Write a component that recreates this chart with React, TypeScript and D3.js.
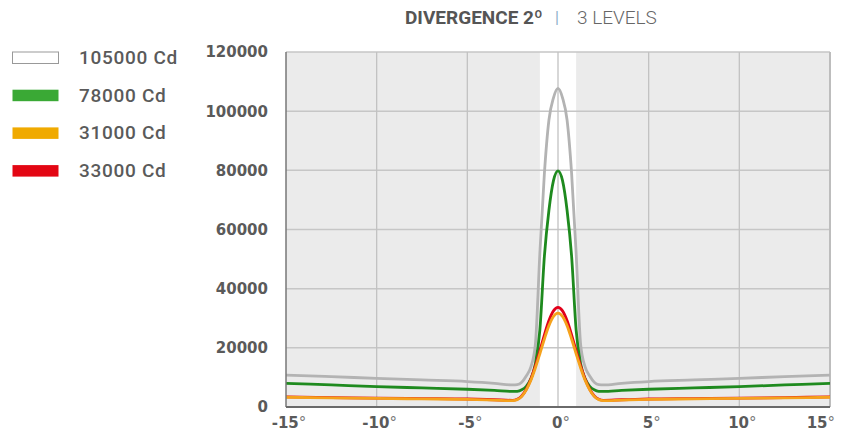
import * as d3 from "d3";

// angle (deg) and intensity (cd)
const angles = [
  -15, -12.5, -10, -7.5, -5, -3.5, -2.5, -2.25, -2, -1.75, -1.5, -1.25, -1, -0.75, -0.5, -0.25,
  0, 0.25, 0.5, 0.75, 1, 1.25, 1.5, 1.75, 2, 2.25, 2.5, 3.5, 5, 7.5, 10, 12.5, 15,
];
const gray = [
  10800, 10250, 9700, 9150, 8600, 8000, 7450, 7550, 8400, 10500, 13500, 21000, 52000, 79000, 97000, 104500,
  107700, 104500, 97000, 79000, 52000, 21000, 13500, 10500, 8400, 7550, 7450, 8000, 8600, 9150, 9700, 10250, 10800,
];
const green = [
  8000, 7450, 6900, 6450, 6000, 5600, 5250, 5300, 5800, 7000, 9500, 14500, 26000, 51000, 66500, 76500,
  79800, 76500, 66500, 51000, 26000, 14500, 9500, 7000, 5800, 5300, 5250, 5600, 6000, 6450, 6900, 7450, 8000,
];
const orange = [
  3300, 3100, 2900, 2750, 2600, 2350, 2150, 2500, 3600, 5800, 9000, 13200, 18000, 23000, 27500, 30600,
  31700, 30600, 27500, 23000, 18000, 13200, 9000, 5800, 3600, 2500, 2150, 2350, 2600, 2750, 2900, 3100, 3300,
];
const red = [
  3400, 3200, 3000, 2850, 2700, 2450, 2250, 2600, 3700, 6000, 9400, 13900, 19000, 24400, 29200, 32500,
  33700, 32500, 29200, 24400, 19000, 13900, 9400, 6000, 3700, 2600, 2250, 2450, 2700, 2850, 3000, 3200, 3400,
];

const legendLabels = ["105000 Cd", "78000 Cd", "31000 Cd", "33000 Cd"];
const legendColors = ["#ffffff", "#3aa935", "#f0aa00", "#e30613"];
const xTicks = [-15, -10, -5, 0, 5, 10, 15];
const yTicks = [0, 20000, 40000, 60000, 80000, 100000, 120000];

const width = 851;
const height = 432;
const margin = { top: 52, right: 21, bottom: 25, left: 286 };

export default function App() {
  const x = d3.scaleLinear().domain([-15, 15]).range([margin.left, width - margin.right]);
  const y = d3.scaleLinear().domain([0, 120000]).range([height - margin.bottom, margin.top]);

  const line = (vals: number[]) =>
    d3
      .line<number>()
      .x((_, i) => x(angles[i]))
      .y((d) => y(d))
      .curve(d3.curveMonotoneX)(vals) || "";

  const series = [
    { vals: gray, color: "#b3b3b3" },
    { vals: green, color: "#1e8a1e" },
    { vals: red, color: "#e2001a" },
    { vals: orange, color: "#f5a21c" },
  ];

  const tickFont = "'DejaVu Sans', sans-serif";

  return (
    <svg
      width={width}
      height={height}
      style={{ position: "absolute", left: 0, top: 0, background: "#fff" }}
    >
      {/* title */}
      <text x={405} y={24} fontFamily="Roboto" fontSize={19} fontWeight={700} fill="#555">
        DIVERGENCE 2º
      </text>
      <text x={557} y={23} fontFamily="Roboto" fontSize={16} fill="#8cb0c9" textAnchor="middle">
        |
      </text>
      <text x={577} y={24} fontFamily="Roboto" fontSize={19} fontWeight={300} fill="#666">
        3 LEVELS
      </text>

      {/* legend */}
      {legendLabels.map((l, i) => (
        <g key={l} transform={`translate(0, ${52 + i * 37.7})`}>
          <rect
            x={12.5}
            y={0}
            width={46}
            height={11.5}
            fill={legendColors[i]}
            stroke={i === 0 ? "#999" : "none"}
          />
          <text x={79} y={12} fontFamily="Roboto" fontWeight={500} fontSize={19} letterSpacing={0.7} fill="#5a5a5a">
            {l}
          </text>
        </g>
      ))}

      {/* plot background */}
      <rect
        x={x(-15)}
        y={y(120000)}
        width={x(15) - x(-15)}
        height={y(0) - y(120000)}
        fill="#ebebeb"
      />
      <rect x={x(-1)} y={y(120000)} width={x(1) - x(-1)} height={y(0) - y(120000)} fill="#ffffff" />

      {/* grid */}
      {yTicks.slice(1).map((t) => (
        <line key={t} x1={x(-15)} x2={x(15)} y1={y(t)} y2={y(t)} stroke="#c6c6c6" strokeWidth={1.5} />
      ))}
      {xTicks.slice(1, -1).map((t) => (
        <line key={t} x1={x(t)} x2={x(t)} y1={y(0)} y2={y(120000)} stroke="#c2c2c2" strokeWidth={1.3} />
      ))}
      <line x1={x(15)} x2={x(15)} y1={y(0)} y2={y(120000)} stroke="#bdbdbd" strokeWidth={2} />

      {/* curves */}
      {series.map((s) => (
        <path key={s.color} d={line(s.vals)} fill="none" stroke={s.color} strokeWidth={2.8} strokeLinejoin="round" />
      ))}

      {/* axes */}
      <line x1={x(-15)} x2={x(-15)} y1={y(0)} y2={y(120000)} stroke="#777" strokeWidth={1.5} />
      <line x1={x(-15)} x2={x(15)} y1={y(0)} y2={y(0)} stroke="#6a6a6a" strokeWidth={2} />

      {yTicks.map((t) => (
        <text
          key={t}
          x={268}
          y={y(t)}
          dy="0.36em"
          textAnchor="end"
          fontFamily={tickFont}
          fontWeight={700}
          fontSize={15}
          fill="#5a5a5a"
        >
          {t}
        </text>
      ))}
      {xTicks.map((t, i) => (
        <text
          key={t}
          x={i === xTicks.length - 1 ? x(t) + 5 : x(t) + 3}
          y={428}
          textAnchor={i === xTicks.length - 1 ? "end" : "middle"}
          fontFamily={tickFont}
          fontWeight={700}
          fontSize={15}
          fill="#5a5a5a"
        >
          {t}
          <tspan fontWeight={400} fill="#777">°</tspan>
        </text>
      ))}
    </svg>
  );
}
